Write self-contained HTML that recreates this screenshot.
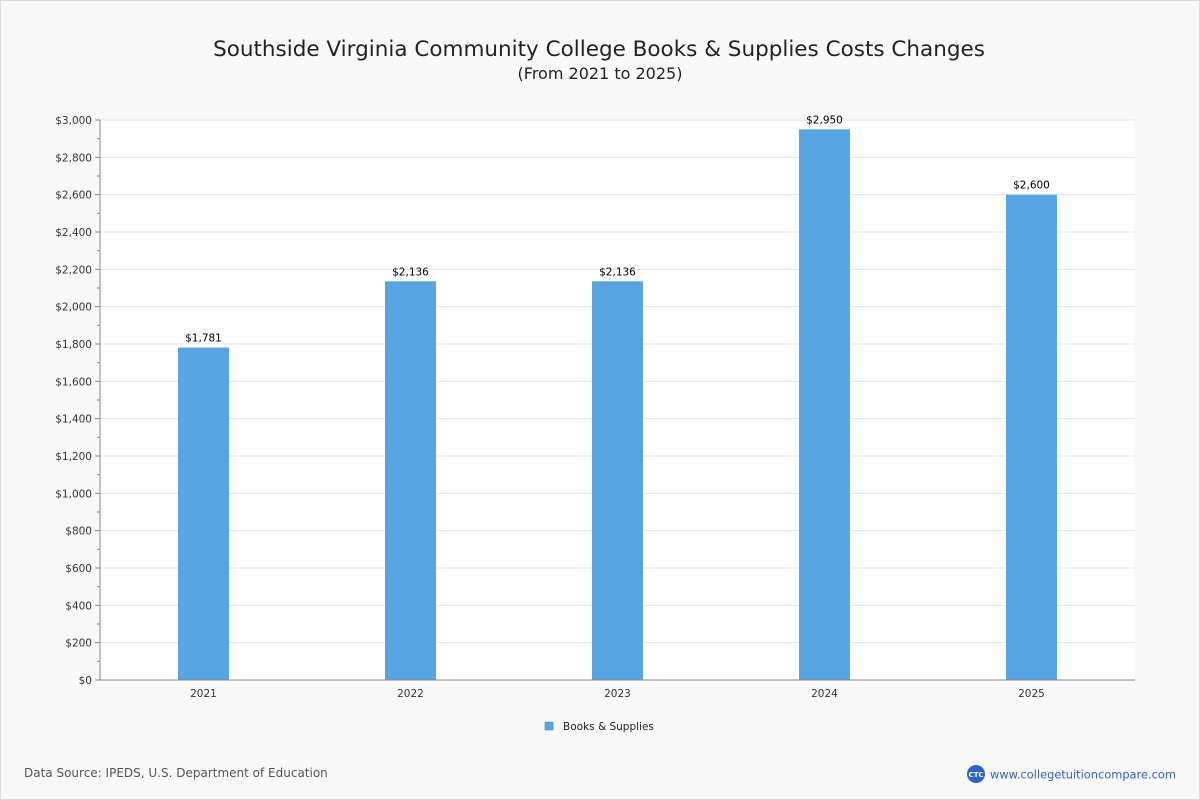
<!DOCTYPE html>
<html><head><meta charset="utf-8"><style>
body{margin:0;width:1200px;height:800px;background:#fff;font-family:"DejaVu Sans","Liberation Sans",sans-serif;}
#frame{position:absolute;left:0;top:0;width:1198px;height:798px;border:1px solid #ddd;background:#f9f9f9;}
</style></head><body>
<div id="frame"></div>
<svg id="chart" width="1200" height="800" style="position:absolute;left:0;top:0">
<text x="599" y="56" text-anchor="middle" font-size="21.5" fill="#222">Southside Virginia Community College Books &amp; Supplies Costs Changes</text>
<text x="600" y="79" text-anchor="middle" font-size="16" fill="#222">(From 2021 to 2025)</text>
<rect x="100" y="120" width="1035" height="560" fill="#fff"/>
<g id="grid"></g><g id="bars"></g><g id="axes"></g>
<rect x="545" y="722" width="8" height="8" fill="#57a5e2" stroke="#3a7fc0" stroke-width="0.5"/>
<text x="563" y="730" font-size="10.5" fill="#222">Books &amp; Supplies</text>
<text x="24" y="777" font-size="12" fill="#555">Data Source: IPEDS, U.S. Department of Education</text>
<circle cx="976" cy="774" r="9" fill="#2e62c9"/>
<text x="976" y="777" text-anchor="middle" font-size="7" fill="#fff" font-weight="bold">CTC</text>
<text x="990" y="778.5" font-size="11.4" fill="#2e62c9">www.collegetuitioncompare.com</text>
</svg>
<script>
const categories=["2021","2022","2023","2024","2025"];
const values=[1781,2136,2136,2950,2600];
const valueLabels=["$1,781","$2,136","$2,136","$2,950","$2,600"];
const yTicks=[0,200,400,600,800,1000,1200,1400,1600,1800,2000,2200,2400,2600,2800,3000];
const NS="http://www.w3.org/2000/svg";
const L=100,R=1135,T=120,B=680,YMAX=3000;
const y=v=>B-(v/YMAX)*(B-T);
const bw=(R-L)/categories.length;
const x=i=>L+bw*(i+0.5);
function mk(tag,attrs,parent,text){const e=document.createElementNS(NS,tag);for(const k in attrs)e.setAttribute(k,attrs[k]);if(text!==undefined)e.textContent=text;document.getElementById(parent).appendChild(e);return e;}
yTicks.forEach(v=>{
 let g=mk("line",{x1:L,x2:R,y1:y(v),y2:y(v),stroke:"#e3e3e3"},"grid");
 
 
 let t=mk("line",{x1:L-5,x2:L,y1:y(v),y2:y(v),stroke:"#888"},"axes");
 
 
 if(v<YMAX){
 let m=mk("line",{x1:L-3,x2:L,y1:y(v+100),y2:y(v+100),stroke:"#888"},"axes");
 
 
 }
 let lb=mk("text",{x:L-8,y:y(v)+4,"text-anchor":"end","font-size":"10.5",fill:"#333"},"axes","$"+v.toLocaleString("en-US"));
 
 
});
categories.forEach((c,i)=>{
 let b=mk("rect",{x:x(i)-25.5,y:y(values[i]),width:51,height:B-y(values[i]),fill:"#57a5e2"},"bars");
 
 
 let vl=mk("text",{x:x(i),y:y(values[i])-6,"text-anchor":"middle","font-size":"10.5",fill:"#000"},"bars",valueLabels[i]);
 
 
 let xl=mk("text",{x:x(i),y:B+17,"text-anchor":"middle","font-size":"10.5",fill:"#333"},"axes",c);
 
 
});
let ya=mk("line",{x1:L,x2:L,y1:T,y2:B,stroke:"#888"},"axes");


let xa=mk("line",{x1:L,x2:R,y1:B,y2:B,stroke:"#888"},"axes");


</script>
</body></html>
